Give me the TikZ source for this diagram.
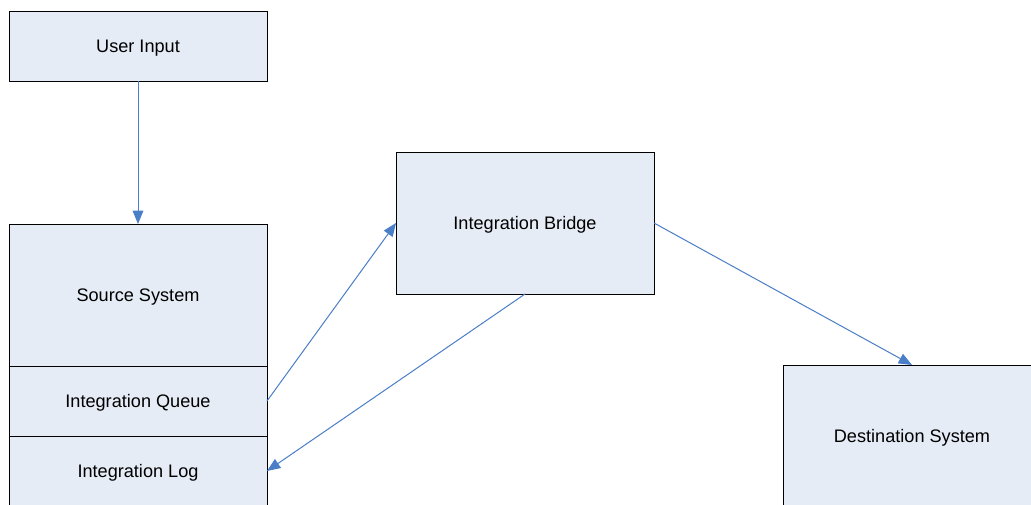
\documentclass[tikz,border=0pt]{standalone}
\usepackage{fontspec}
\setmainfont{Liberation Sans}
\usetikzlibrary{arrows.meta}

\definecolor{boxfill}{HTML}{E6ECF6}
\definecolor{linkblue}{HTML}{4A7EC7}

\begin{document}
\begin{tikzpicture}[x=0.75pt,y=-0.75pt,
        block/.style={draw=black,line width=0.75pt,fill=boxfill,inner sep=0pt,outer sep=0pt,
            minimum width=193.5pt,text height=12pt,text depth=3pt,
            font=\fontsize{13.6}{16}\selectfont},
        tall/.style={block,minimum height=106.5pt},
        short/.style={block,minimum height=52.5pt},
        link/.style={draw=linkblue,line width=0.75pt,-{Triangle[length=10pt,width=8pt]}}]
    \useasboundingbox (0,0) rectangle (1031,504);
    \clip (-2,-2) rectangle (1034,507);
    \fill[white] (-2,-2) rectangle (1034,507);

    \node[short] (user) at (138,46) {User Input};
    \node[tall] (source) at (138,295) {Source System};
    \node[short] (queue) at (138,401) {Integration Queue};
    \node[short] (log) at (138,471) {Integration Log};
    \node[tall] (bridge) at (525,223) {Integration Bridge};
    \node[tall] (dest) at (912,436) {Destination System};

    \draw[link] (user.south) -- (source.north);
    \draw[link] (queue.east) -- (bridge.west);
    \draw[link] (bridge.south) -- (log.east);
    \draw[link] (bridge.east) -- (dest.north);
\end{tikzpicture}
\end{document}
